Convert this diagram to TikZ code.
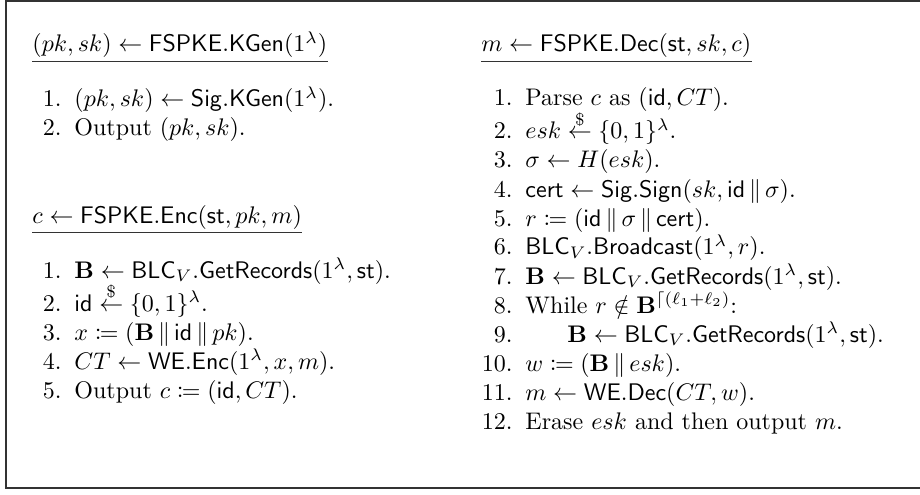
\documentclass[tikz,border=0pt]{standalone}
\usepackage{mathtools}
\usepackage{amssymb}
\begin{document}
\begin{tikzpicture}[x=0.4167pt,y=-0.4167pt,
  hdr/.style={anchor=base west,inner sep=0pt},
  itm/.style={anchor=base west,inner sep=0pt},
  lbl/.style={anchor=base east,inner sep=0pt},
  uline/.style={line width=0.45pt,black!80},
  frame/.style={line width=0.9pt,black!80}]
\useasboundingbox (0,0) rectangle (920,494);
\draw[frame] (920,1) -- (6,1) -- (6,488) -- (920,488);
% ---- KGen
\node[hdr] (hk) at (32,52) {$(pk,sk)\leftarrow\mathsf{FSPKE.KGen}(1^\lambda)$};
\draw[uline] ([yshift=-1.3pt]hk.south west) -- ([yshift=-1.3pt]hk.south east);
\node[lbl] (k1n) at (62,107) {1.};
\node[itm] (k1) at (74,107) {$(pk,sk)\leftarrow\mathsf{Sig.KGen}(1^\lambda)$.};
\node[lbl] (k2n) at (62,136) {2.};
\node[itm] (k2) at (74,136) {Output $(pk,sk)$.};
% ---- Enc
\node[hdr] (he) at (32,223) {$c\leftarrow\mathsf{FSPKE.Enc}(\mathsf{st},pk,m)$};
\draw[uline] ([yshift=-1.3pt]he.south west) -- ([yshift=-1.3pt]he.south east);
\node[lbl] (e1n) at (62,278) {1.};
\node[itm] (e1) at (74,278) {$\mathbf{B}\leftarrow\mathsf{BLC}_V.\mathsf{GetRecords}(1^\lambda,\mathsf{st})$.};
\node[lbl] (e2n) at (62,311) {2.};
\node[itm] (e2) at (74,311) {$\mathsf{id}\stackrel{\$}{\leftarrow}\{0,1\}^\lambda$.};
\node[lbl] (e3n) at (62,340) {3.};
\node[itm] (e3) at (74,340) {$x\coloneqq(\mathbf{B}\,\|\,\mathsf{id}\,\|\,pk)$.};
\node[lbl] (e4n) at (62,369) {4.};
\node[itm] (e4) at (74,369) {$CT\leftarrow\mathsf{WE.Enc}(1^\lambda,x,m)$.};
\node[lbl] (e5n) at (62,398) {5.};
\node[itm] (e5) at (74,398) {Output $c\coloneqq(\mathsf{id},CT)$.};
% ---- Dec
\node[hdr] (hd) at (481,52) {$m\leftarrow\mathsf{FSPKE.Dec}(\mathsf{st},sk,c)$};
\draw[uline] ([yshift=-1.3pt]hd.south west) -- ([yshift=-1.3pt]hd.south east);
\node[lbl] (d1n) at (513,106) {1.};
\node[itm] (d1) at (525,106) {Parse $c$ as $(\mathsf{id},CT)$.};
\node[lbl] (d2n) at (513,139) {2.};
\node[itm] (d2) at (525,139) {$esk\stackrel{\$}{\leftarrow}\{0,1\}^\lambda$.};
\node[lbl] (d3n) at (513,168) {3.};
\node[itm] (d3) at (525,168) {$\sigma\leftarrow H(esk)$.};
\node[lbl] (d4n) at (513,197) {4.};
\node[itm] (d4) at (525,197) {$\mathsf{cert}\leftarrow\mathsf{Sig.Sign}(sk,\mathsf{id}\,\|\,\sigma)$.};
\node[lbl] (d5n) at (513,226) {5.};
\node[itm] (d5) at (525,226) {$r\coloneqq(\mathsf{id}\,\|\,\sigma\,\|\,\mathsf{cert})$.};
\node[lbl] (d6n) at (513,255) {6.};
\node[itm] (d6) at (525,255) {$\mathsf{BLC}_V.\mathsf{Broadcast}(1^\lambda,r)$.};
\node[lbl] (d7n) at (513,284) {7.};
\node[itm] (d7) at (525,284) {$\mathbf{B}\leftarrow\mathsf{BLC}_V.\mathsf{GetRecords}(1^\lambda,\mathsf{st})$.};
\node[lbl] (d8n) at (513,313) {8.};
\node[itm] (d8) at (525,313) {While $r\notin\mathbf{B}^{\lceil(\ell_1+\ell_2)}$:};
\node[lbl] (d9n) at (513,342) {9.};
\node[itm] (d9) at (567,342) {$\mathbf{B}\leftarrow\mathsf{BLC}_V.\mathsf{GetRecords}(1^\lambda,\mathsf{st})$.};
\node[lbl] (d10n) at (513,371) {10.};
\node[itm] (d10) at (525,371) {$w\coloneqq(\mathbf{B}\,\|\,esk)$.};
\node[lbl] (d11n) at (513,400) {11.};
\node[itm] (d11) at (525,400) {$m\leftarrow\mathsf{WE.Dec}(CT,w)$.};
\node[lbl] (d12n) at (513,429) {12.};
\node[itm] (d12) at (525,429) {Erase $esk$ and then output $m$.};
\end{tikzpicture}
\end{document}
